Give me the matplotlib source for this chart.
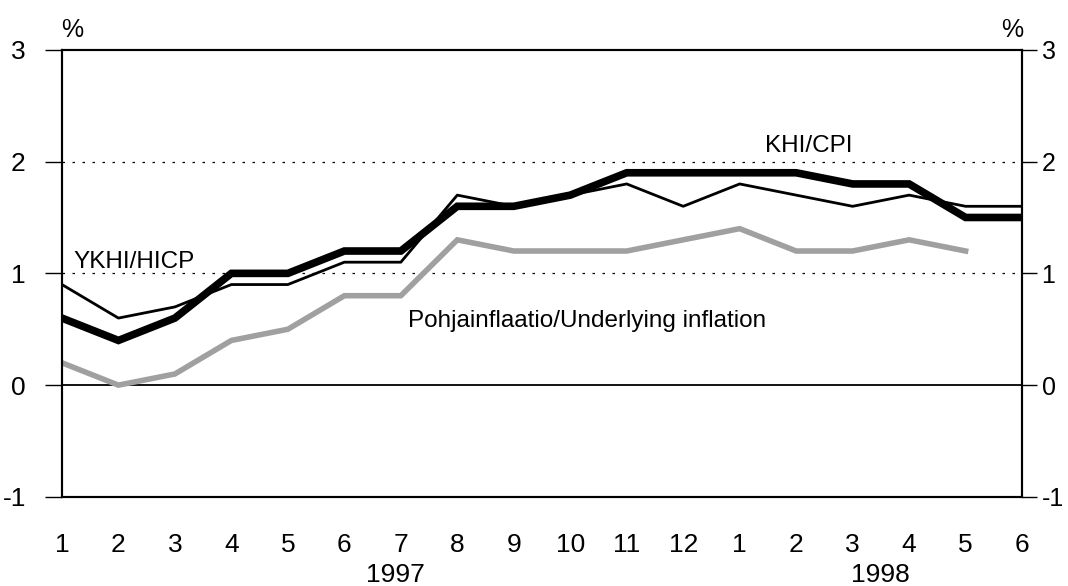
import matplotlib
matplotlib.use("Agg")
import matplotlib.pyplot as plt
import numpy as np

plt.rcParams['font.family'] = ['Liberation Sans', 'DejaVu Sans']
plt.rcParams['axes.unicode_minus'] = False

months = ["1", "2", "3", "4", "5", "6", "7", "8", "9", "10", "11", "12",
          "1", "2", "3", "4", "5", "6"]
years = ["1997", "1998"]
cpi = [0.6, 0.4, 0.6, 1.0, 1.0, 1.2, 1.2, 1.6, 1.6, 1.7, 1.9, 1.9,
       1.9, 1.9, 1.8, 1.8, 1.5, 1.5]
hicp = [0.9, 0.6, 0.7, 0.9, 0.9, 1.1, 1.1, 1.7, 1.6, 1.7, 1.8, 1.6,
        1.8, 1.7, 1.6, 1.7, 1.6, 1.6]
underlying = [0.2, 0.0, 0.1, 0.4, 0.5, 0.8, 0.8, 1.3, 1.2, 1.2, 1.2, 1.3,
              1.4, 1.2, 1.2, 1.3, 1.2]
yticks = [-1, 0, 1, 2, 3]

fig = plt.figure(figsize=(10.68, 5.86), dpi=100)
ax = fig.add_axes([0.058, 0.152, 0.899, 0.763])

x = np.arange(1, len(months) + 1)
ax.axhline(0, color='black', lw=1.3, zorder=1)
for g in [1, 2]:
    ax.axhline(g, color='black', lw=0.9, ls=(0, (2, 6)), zorder=1)

ax.plot(np.arange(1, len(underlying) + 1), underlying, color='#a0a0a0', lw=4, zorder=2,
        solid_joinstyle='miter')
ax.plot(x, hicp, color='black', lw=2.0, zorder=3)
ax.plot(x, cpi, color='black', lw=5.5, zorder=4, solid_joinstyle='miter')

ax.set_xlim(1, len(months))
ax.set_ylim(-1, 3)
ax.set_yticks(yticks)
ax.set_xticks(x)
ax.set_xticklabels(months)
ax.tick_params(axis='x', length=0, pad=26, labelsize=19)
ax.tick_params(axis='y', direction='out', length=12, width=1, labelsize=19, pad=14)
for s in ax.spines.values():
    s.set_linewidth(1.5)

ax2 = ax.twinx()
ax2.set_ylim(-1, 3)
ax2.set_yticks(yticks)
ax2.tick_params(axis='y', direction='out', length=11, width=1, labelsize=18, pad=3)
for s in ax2.spines.values():
    s.set_linewidth(1.5)

ax.text(1.2, 1.1, "YKHI/HICP", fontsize=17.5, ha='left', va='center')
ax.text(13.45, 2.14, "KHI/CPI", fontsize=17.5, ha='left', va='center')
ax.text(7.12, 0.57, "Pohjainflaatio/Underlying inflation", fontsize=17.5, ha='left', va='center')

fig.text(72 / 1068, 1 - 30 / 586, "%", fontsize=18, ha='center', va='center')
fig.text(1012 / 1068, 1 - 30 / 586, "%", fontsize=18, ha='center', va='center')
fig.text(395 / 1068, 1 - 575 / 586, years[0], fontsize=19, ha='center', va='center')
fig.text(880 / 1068, 1 - 575 / 586, years[1], fontsize=19, ha='center', va='center')

fig.savefig("out.png", dpi=100)
